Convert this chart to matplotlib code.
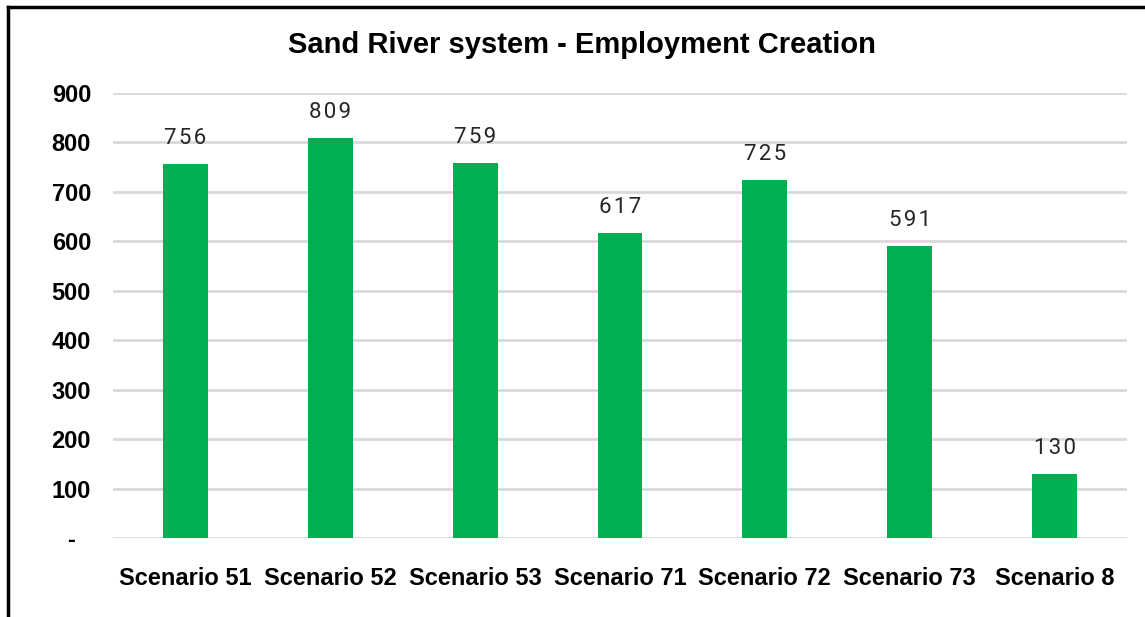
import numpy as np
import matplotlib.pyplot as plt
from matplotlib.lines import Line2D

scenarios = ["Scenario 51", "Scenario 52", "Scenario 53", "Scenario 71",
             "Scenario 72", "Scenario 73", "Scenario 8"]
jobs = [756, 809, 759, 617, 725, 591, 130]
yticks = [0, 100, 200, 300, 400, 500, 600, 700, 800, 900]
ytick_labels = ["-", "100", "200", "300", "400", "500", "600", "700", "800", "900"]

W, H = 1145, 617
fig = plt.figure(figsize=(W / 100, H / 100), dpi=100)
ax = fig.add_axes([113 / W, 1 - 538 / H, (1127 - 113) / W, (538 - 93) / H])

x = np.arange(len(scenarios))
ax.bar(x, jobs, width=0.31, color="#00B050", zorder=3)
for xi, v in zip(x, jobs):
    ax.text(xi, v + 30, "\u200a".join(str(v)), ha="center", va="bottom", fontsize=16,
            family=["Roboto", "DejaVu Sans"], fontweight="normal", color="#262626")

ax.set_xlim(-0.5, len(scenarios) - 0.5)
ax.set_ylim(0, 900)
ax.set_yticks(yticks)
ax.set_yticklabels(ytick_labels, family="Liberation Sans", fontweight="bold", fontsize=17)
ax.set_xticks(x)
ax.set_xticklabels(scenarios, family="Liberation Sans", fontweight="bold", fontsize=17)
ax.tick_params(axis="y", length=0, pad=30)
ax.tick_params(axis="x", length=0, pad=21)
for lbl in ax.get_yticklabels():
    lbl.set_horizontalalignment("center")
ax.grid(axis="y", color="#D9D9D9", linewidth=2, zorder=0)
for s in ax.spines.values():
    s.set_visible(False)

fig.text(582 / W, 1 - 45 / H, "Sand River system - Employment Creation",
         ha="center", va="center", fontsize=21, fontweight="bold",
         family="Liberation Sans")

# outer frame (left and top edges visible)
fig.add_artist(Line2D([7.5 / W, 7.5 / W], [0, 1 - 6.5 / H], color="black", lw=2.5,
                      transform=fig.transFigure))
fig.add_artist(Line2D([7.5 / W, 1], [1 - 6.5 / H, 1 - 6.5 / H], color="black", lw=2.5,
                      transform=fig.transFigure))

fig.savefig("out.png", dpi=100)
